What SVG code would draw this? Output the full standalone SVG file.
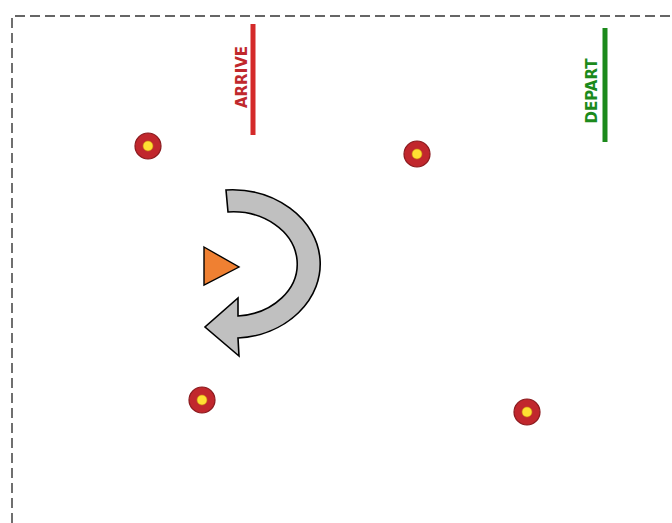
<svg xmlns="http://www.w3.org/2000/svg" width="672" height="523" viewBox="0 0 672 523">
<defs>
<style>
.border{fill:none;stroke:#333;stroke-width:1.4;stroke-dasharray:10 5}
.tgt-o{fill:#c1272d;stroke:#8a1a1e;stroke-width:1.2}
.tgt-i{fill:#ffe033;stroke:#c88a10;stroke-width:0.6}
.lbl{font-family:"DejaVu Sans",sans-serif;font-weight:bold;font-size:15px;text-anchor:middle}
</style>
</defs>
<rect width="672" height="523" fill="#fff"/>
<path class="border" d="M12,523 V16 H672"/>
<g id="arrive">
<rect x="250.5" y="24" width="5" height="111" fill="#d42a2a"/>
<text class="lbl" fill="#c0282d" transform="translate(247,77) rotate(-90)">ARRIVE</text>
</g>
<g id="depart">
<rect x="602.5" y="28" width="5" height="114" fill="#1c8a1c"/>
<text class="lbl" fill="#1c8a1c" transform="translate(597,91) rotate(-90)">DEPART</text>
</g>
<g id="target1"><circle class="tgt-o" cx="148" cy="146" r="13"/><circle class="tgt-i" cx="148" cy="146" r="5"/></g>
<g id="target2"><circle class="tgt-o" cx="417" cy="154" r="13"/><circle class="tgt-i" cx="417" cy="154" r="5"/></g>
<g id="target3"><circle class="tgt-o" cx="202" cy="400" r="13"/><circle class="tgt-i" cx="202" cy="400" r="5"/></g>
<g id="target4"><circle class="tgt-o" cx="527" cy="412" r="13"/><circle class="tgt-i" cx="527" cy="412" r="5"/></g>
<g id="rotate-arrow">
<path d="M226,190 A88 74 0 1 1 238,338 L239,356 L205,327 L238,298 L238,316 A64 52 0 1 0 228,212 Z" fill="#c0c0c0" stroke="#000" stroke-width="1.6" stroke-linejoin="miter"/>
</g>
<g id="start">
<path d="M204,247 L239,267 L204,285 Z" fill="#ef8032" stroke="#000" stroke-width="1.4"/>
</g>
</svg>
